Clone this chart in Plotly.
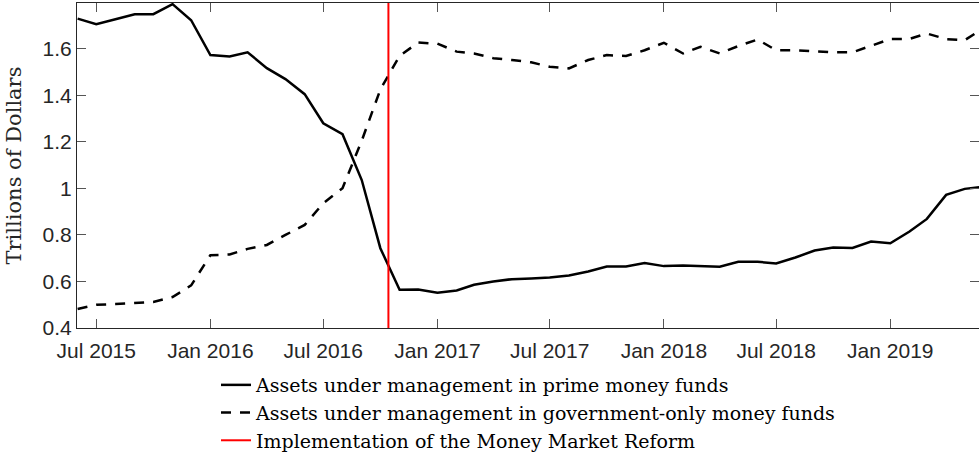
import pandas as pd
import plotly.graph_objects as go

# ---- data (trillions of dollars, monthly) ----
months = list(pd.date_range("2015-06-01", "2019-06-01", freq="MS"))

prime = [1.730, 1.706, 1.727, 1.749, 1.749, 1.792, 1.723,
         1.573, 1.567, 1.585, 1.517, 1.470, 1.405, 1.280, 1.233, 1.036, 0.743, 0.564, 0.565,
         0.552, 0.561, 0.586, 0.600, 0.610, 0.613, 0.617, 0.626, 0.643, 0.664, 0.664, 0.679,
         0.666, 0.669, 0.667, 0.663, 0.685, 0.685, 0.677, 0.703, 0.733, 0.746, 0.744, 0.772,
         0.764, 0.815, 0.869, 0.972, 0.998, 1.008]

gov = [0.482, 0.500, 0.503, 0.506, 0.512, 0.533, 0.583,
       0.713, 0.716, 0.740, 0.757, 0.800, 0.843, 0.936, 1.001, 1.205, 1.425, 1.570, 1.627,
       1.622, 1.588, 1.580, 1.560, 1.552, 1.542, 1.523, 1.516, 1.552, 1.573, 1.569, 1.594,
       1.626, 1.580, 1.609, 1.580, 1.612, 1.640, 1.594, 1.594, 1.590, 1.585, 1.585, 1.612,
       1.642, 1.643, 1.666, 1.642, 1.637, 1.690]

reform_date = "2016-10-14"

x_range = ["2015-05-31", "2019-05-24"]
y_range = [0.4, 1.797]

x_tickvals = ["2015-07-01", "2016-01-01", "2016-07-01", "2017-01-01",
              "2017-07-01", "2018-01-01", "2018-07-01", "2019-01-01"]
x_ticktext = ["Jul 2015", "Jan 2016", "Jul 2016", "Jan 2017",
              "Jul 2017", "Jan 2018", "Jul 2018", "Jan 2019"]
y_tickvals = [0.4, 0.6, 0.8, 1.0, 1.2, 1.4, 1.6]
y_ticktext = ["0.4", "0.6", "0.8", "1", "1.2", "1.4", "1.6"]

names = ["Assets under management in prime money funds",
         "Assets under management in government-only money funds",
         "Implementation of the Money Market Reform"]

SERIF = "DejaVu Serif, Liberation Serif, serif"

fig = go.Figure()
fig.add_trace(go.Scatter(x=months, y=prime, mode="lines", name=names[0],
                         line=dict(color="black", width=2.5)))
fig.add_trace(go.Scatter(x=months, y=gov, mode="lines", name=names[1],
                         line=dict(color="black", width=2.5, dash="10px,9px")))
fig.add_trace(go.Scatter(x=[reform_date, reform_date], y=y_range, mode="lines",
                         name=names[2], line=dict(color="#ff0000", width=2)))

axis_common = dict(showline=True, linecolor="#262626", linewidth=1, mirror="ticks",
                   ticks="inside", tickcolor="#555555", ticklen=9, tickwidth=1,
                   showgrid=False, zeroline=False, automargin=False,
                   tickfont=dict(family="Liberation Sans, Arial, sans-serif",
                                 size=21, color="#262626"))

fig.update_xaxes(range=x_range, tickvals=x_tickvals, ticktext=x_ticktext,
                 ticklabelstandoff=4, **axis_common)
fig.update_yaxes(range=y_range, tickvals=y_tickvals, ticktext=y_ticktext,
                 title=dict(text="Trillions of Dollars",
                            font=dict(family=SERIF, size=21, color="#262626")),
                 **axis_common)

fig.update_layout(
    width=979, height=457,
    margin=dict(l=77, r=0, t=3, b=129, autoexpand=False),
    paper_bgcolor="white", plot_bgcolor="white",
    showlegend=True,
    legend=dict(x=0.1541, y=-0.117, xanchor="left", yanchor="top",
                bgcolor="rgba(255,255,255,0)", borderwidth=0,
                font=dict(family=SERIF, size=19, color="black"),
                tracegroupgap=0),
)

fig.write_html("out.html",
               config={"displayModeBar": False},
               post_script="document.body.style.margin='0';document.body.style.padding='0';")
